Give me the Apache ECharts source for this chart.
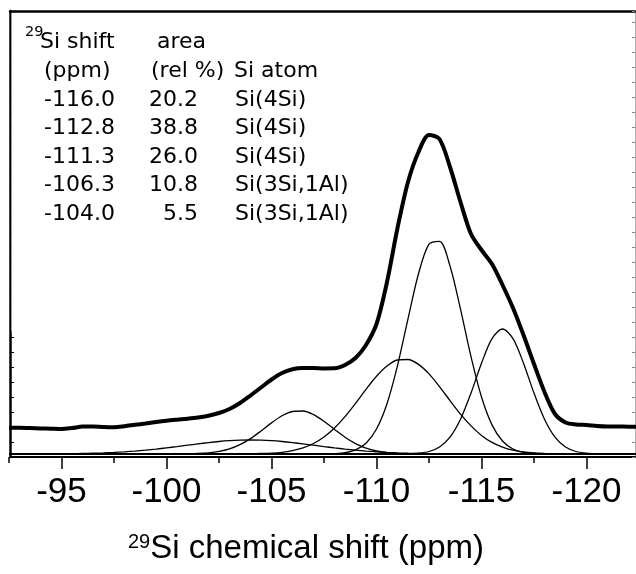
<!DOCTYPE html>
<html><head><meta charset="utf-8">
<script src="https://cdn.jsdelivr.net/npm/echarts@6/dist/echarts.min.js"></script>
<style>html,body{margin:0;padding:0;background:#fff}#c{width:636px;height:574px}</style>
</head><body><div id="c"></div>
<script>
// 29Si chemical shift sample positions (ppm)
const shiftPpm = [-92.5,-93,-93.5,-94,-94.5,-95,-95.5,-96,-96.5,-97,-97.5,-98,-98.5,-99,-99.5,-100,-100.5,-101,-101.5,-102,-102.5,-103,-103.5,-104,-104.5,-105,-105.5,-106,-106.5,-107,-107.5,-108,-108.5,-109,-109.5,-110,-110.5,-111,-111.5,-112,-112.5,-113,-113.5,-114,-114.5,-115,-115.5,-116,-116.5,-117,-117.5,-118,-118.5,-119,-119.5,-120,-120.5,-121,-121.5,-122,-122.5];
// measured spectrum (offset above the fit baseline), intensity a.u.
const totalSpectrum = [26.3,26.3,26.0,25.6,25.3,25.0,26.0,27.4,27.6,27.0,26.8,27.8,29.2,30.5,32.0,33.3,34.3,35.2,36.4,38.3,41.0,45.0,51.0,58.5,66.5,74.5,81.0,84.8,86.0,86.0,85.6,85.7,89.0,96.0,109.0,130.0,172.0,226.0,272.0,302.0,319.0,315.0,287.0,252.0,220.0,204.0,190.0,169.0,146.0,119.0,90.0,62.0,40.0,31.5,29.5,29.0,28.0,27.5,27.5,27.3,27.3];
// fitted components
const peak116_0 = [0,0,0,0,0,0,0,0,0,0,0,0,0,0,0,0,0,0,0,0,0,0,0,0,0,0,0,0,0,0,0,0,0,0,0,0,0,0,0.2,0.8,2.5,7.0,16.9,34.8,60.9,90.8,115.4,125,115.4,90.8,60.9,34.8,16.9,7.0,2.5,0.8,0.2,0,0,0,0];
const peak112_8 = [0,0,0,0,0,0,0,0,0,0,0,0,0,0,0,0,0,0,0,0,0,0,0,0,0,0,0,0,0,0,0.1,0.4,1.3,4.1,10.8,25.0,50.3,88.4,135.2,180.3,209.8,212.7,188.0,144.9,97.3,57.0,29.1,13.0,5.0,1.7,0.5,0.1,0,0,0,0,0,0,0,0,0];
const peak111_3 = [0,0,0,0,0,0,0,0,0,0,0,0,0,0,0,0,0,0,0,0,0,0,0.1,0.2,0.5,0.9,1.7,3.4,6.1,10.5,17.0,26.0,37.4,50.6,64.6,77.7,88.0,94.0,94.5,89.6,80.1,67.4,53.4,39.9,28.1,18.6,11.6,6.9,3.8,2.0,1.0,0.5,0.2,0.1,0,0,0,0,0,0,0];
const peak106_3 = [0,0,0,0,0,0,0,0,0,0,0,0,0,0,0,0,0.1,0.2,0.5,1.2,2.6,5.2,9.4,15.4,23.0,31.1,38.2,42.5,43.0,39.4,32.7,24.6,16.8,10.4,5.9,3.0,1.4,0.6,0.2,0.1,0,0,0,0,0,0,0,0,0,0,0,0,0,0,0,0,0,0,0,0,0];
const peak104_0 = [0,0,0.05,0.1,0.1,0.2,0.3,0.5,0.75,1.1,1.6,2.2,2.9,3.8,4.9,6.1,7.4,8.8,10.1,11.4,12.5,13.3,13.8,14.0,13.8,13.3,12.5,11.4,10.1,8.8,7.4,6.1,4.9,3.8,2.9,2.2,1.6,1.1,0.75,0.5,0.33,0.2,0.13,0.08,0.05,0,0,0,0,0,0,0,0,0,0,0,0,0,0,0,0];
// annotation table
const tableShift = ['-116.0','-112.8','-111.3','-106.3','-104.0'];
const tableArea = ['20.2','38.8','26.0','10.8','5.5'];
const tableAtom = ['Si(4Si)','Si(4Si)','Si(4Si)','Si(3Si,1Al)','Si(3Si,1Al)'];

const chart = echarts.init(document.getElementById('c'), null, {renderer:'canvas'});
const pair = arr => shiftPpm.map((x, i) => [x, arr[i]]);
const compStyle = {color:'#000', width:1.3};
function comp(arr, extra) {
  return Object.assign({type:'line', data:pair(arr), showSymbol:false, smooth:0.3,
    lineStyle:compStyle, itemStyle:{color:'#000'}, xAxisIndex:0, yAxisIndex:0, silent:true, z:3}, extra||{});
}
const tableFont = '22px "DejaVu Sans"';
const graphics = [
  {type:'rect', shape:{x:11.5, y:13, width:6, height:318}, style:{fill:'#fff'}, z:100},
  {type:'text', x:25, y:32, style:{text:'29', font:'14.5px "DejaVu Sans"', fill:'#000', align:'left', verticalAlign:'middle'}, z:101},
  {type:'text', x:40, y:42.4, style:{text:'Si shift', font:tableFont, fill:'#000', align:'left', verticalAlign:'middle'}, z:101},
  {type:'text', x:157, y:42.4, style:{text:'area', font:tableFont, fill:'#000', align:'left', verticalAlign:'middle'}, z:101},
  {type:'text', x:44, y:70.8, style:{text:'(ppm)', font:tableFont, fill:'#000', align:'left', verticalAlign:'middle'}, z:101},
  {type:'text', x:151, y:70.8, style:{text:'(rel %)', font:tableFont, fill:'#000', align:'left', verticalAlign:'middle'}, z:101},
  {type:'text', x:234, y:70.8, style:{text:'Si atom', font:tableFont, fill:'#000', align:'left', verticalAlign:'middle'}, z:101},
  {type:'text', x:128, y:549, style:{text:'{s|29}{m|Si chemical shift (ppm)}', fill:'#000', align:'left', verticalAlign:'middle',
    rich:{s:{fontSize:20, fontFamily:'"Liberation Sans"', verticalAlign:'top', fill:'#000'}, m:{fontSize:33, fontFamily:'"Liberation Sans"', fill:'#000'}}}, z:101}
];
tableShift.forEach((s, k) => {
  const y = 99.9 + 28.55 * k;
  graphics.push({type:'text', x:44, y:y, style:{text:s, font:tableFont, fill:'#000', align:'left', verticalAlign:'middle'}, z:101});
  graphics.push({type:'text', x:198, y:y, style:{text:tableArea[k], font:tableFont, fill:'#000', align:'right', verticalAlign:'middle'}, z:101});
  graphics.push({type:'text', x:235, y:y, style:{text:tableAtom[k], font:tableFont, fill:'#000', align:'left', verticalAlign:'middle'}, z:101});
});

const plotMin = -122.3095, plotMax = -92.5476;
chart.setOption({
  animation:false,
  backgroundColor:'#fff',
  grid:[
    {left:10, right:1, top:11, bottom:117, outerBoundsMode:'none', containLabel:false},
    {left:-43.5, right:-55.5, top:11, bottom:117, outerBoundsMode:'none', containLabel:false}
  ],
  xAxis:[
    {gridIndex:0, type:'value', inverse:true, min:plotMin, max:plotMax, position:'bottom',
      axisLine:{show:true, onZero:false, lineStyle:{color:'#000', width:2}}, axisTick:{show:false}, axisLabel:{show:false}, splitLine:{show:false}},
    {gridIndex:0, type:'value', inverse:true, min:plotMin, max:plotMax, position:'top',
      axisLine:{show:true, onZero:false, lineStyle:{color:'#000', width:2.5}}, axisTick:{show:false}, axisLabel:{show:false}, splitLine:{show:false}},
    {gridIndex:1, type:'value', inverse:true, min:-125, max:-90, interval:5, position:'bottom',
      axisLine:{show:false, onZero:false}, axisTick:{show:true, inside:false, length:12, lineStyle:{color:'#000', width:1.5}},
      minorTick:{show:true, splitNumber:2, length:6, lineStyle:{color:'#000', width:1.5}},
      axisLabel:{show:true, fontSize:35, fontFamily:'"Liberation Sans"', color:'#000', margin:18, hideOverlap:false},
      splitLine:{show:false}, minorSplitLine:{show:false}}
  ],
  yAxis:[
    {gridIndex:0, type:'value', min:-3, max:443, interval:15, position:'left',
      axisLine:{show:true, onZero:false, lineStyle:{color:'#000', width:2.5}}, axisTick:{show:true, inside:true, length:4, lineStyle:{color:'#000', width:1}},
      axisLabel:{show:false}, splitLine:{show:false}},
    {gridIndex:0, type:'value', min:-3, max:443, interval:15, position:'right',
      axisLine:{show:true, onZero:false, lineStyle:{color:'#b0b0b0', width:1}}, axisTick:{show:true, inside:true, length:3, lineStyle:{color:'#888', width:1}},
      axisLabel:{show:false}, splitLine:{show:false}},
    {gridIndex:1, type:'value', show:false, min:0, max:1}
  ],
  series:[
    comp(peak104_0, {markLine:{silent:true, symbol:'none', label:{show:false}, lineStyle:{color:'#000', width:1.8, type:'solid'}, data:[{yAxis:0}]}}),
    comp(peak106_3),
    comp(peak111_3),
    comp(peak112_8),
    comp(peak116_0),
    {type:'line', data:pair(totalSpectrum), showSymbol:false, smooth:0.3, xAxisIndex:0, yAxisIndex:0,
      lineStyle:{color:'#000', width:4}, itemStyle:{color:'#000'}, silent:true, z:4}
  ],
  graphic:graphics
});
</script></body></html>
